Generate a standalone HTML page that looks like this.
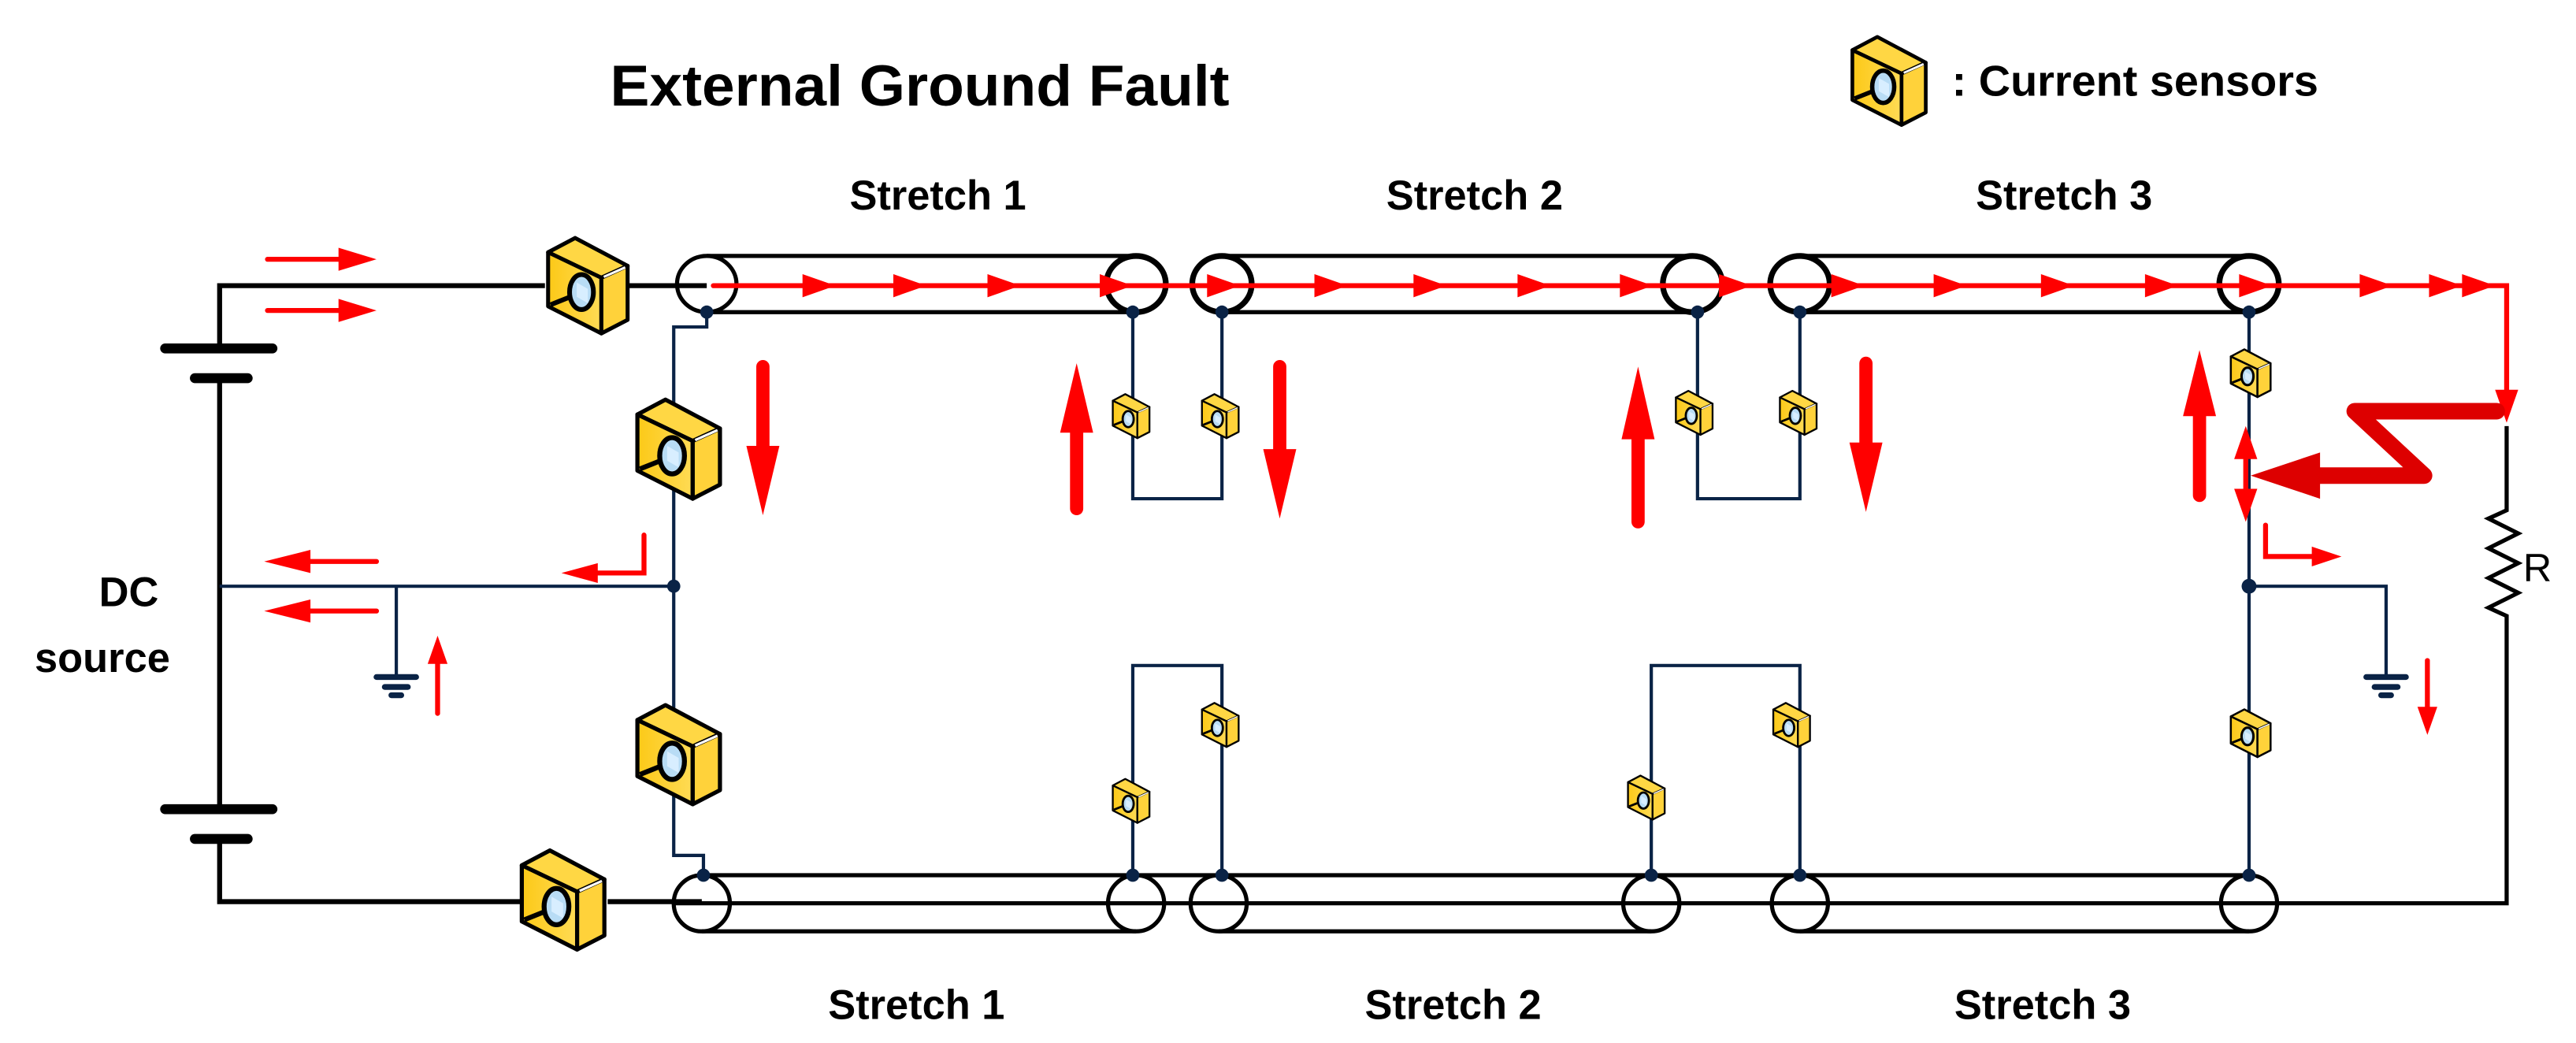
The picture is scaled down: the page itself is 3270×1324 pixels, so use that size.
<!DOCTYPE html>
<html><head><meta charset="utf-8"><style>
html,body{margin:0;padding:0;background:#fff;}
svg{display:block;}
text{font-family:"Liberation Sans",sans-serif;font-weight:bold;fill:#000;}
</style></head><body>
<svg width="3270" height="1324" viewBox="0 0 1560 631.6" preserveAspectRatio="none" xmlns="http://www.w3.org/2000/svg">
<defs>
<linearGradient id="g" x1="0" y1="0" x2="1" y2="0"><stop offset="0" stop-color="#fcc917"/><stop offset="1" stop-color="#ffdb55"/></linearGradient>
<symbol id="s" viewBox="-4 -4 108 128" overflow="visible">
<polygon points="34,0 100,35 67,50 0,18" fill="#ffd744" stroke="#000" stroke-width="5" stroke-linejoin="round"/>
<polygon points="0,18 67,50 67,120 0,86" fill="url(#g)" stroke="#000" stroke-width="5" stroke-linejoin="round"/>
<polygon points="67,50 100,35 100,103 67,120" fill="#ffd23a" stroke="#000" stroke-width="5" stroke-linejoin="round"/>
<line x1="70" y1="49" x2="97" y2="37" stroke="#fff" stroke-width="3"/>
<line x1="3" y1="84" x2="28" y2="74" stroke="#000" stroke-width="6"/>
<ellipse cx="42" cy="68" rx="15" ry="22" fill="#b8dcf5" stroke="#000" stroke-width="6"/>
<polygon points="36,56 50,64 50,82 36,74" fill="#d8eeff"/>
</symbol>
<symbol id="tri" viewBox="0 0 20 14" overflow="visible"><polygon points="0,0 20,7 0,14" fill="#f00"/></symbol>
</defs>

<text x="557" y="64" font-size="35" text-anchor="middle" textLength="375" lengthAdjust="spacingAndGlyphs">External Ground Fault</text>
<text x="1182" y="58" font-size="26" textLength="222" lengthAdjust="spacingAndGlyphs">: Current sensors</text>
<use href="#s" x="1120" y="16" width="48" height="66"/>

<text x="568" y="127" font-size="25" text-anchor="middle">Stretch 1</text>
<text x="893" y="127" font-size="25" text-anchor="middle">Stretch 2</text>
<text x="1250" y="127" font-size="25" text-anchor="middle">Stretch 3</text>
<text x="555" y="617" font-size="25" text-anchor="middle">Stretch 1</text>
<text x="880" y="617" font-size="25" text-anchor="middle">Stretch 2</text>
<text x="1237" y="617" font-size="25" text-anchor="middle">Stretch 3</text>
<text x="78" y="367" font-size="25" text-anchor="middle">DC</text>
<text x="62" y="407" font-size="25" text-anchor="middle">source</text>
<text x="1528" y="352" font-size="24" style="font-weight:normal">R</text>

<g stroke="#000" stroke-width="3" fill="none">
<polyline points="330,173 133,173 133,212"/>
<line x1="133" y1="228" x2="133" y2="490"/>
<polyline points="133,508 133,546 315,546"/>
<line x1="380" y1="173" x2="428" y2="173"/>
<line x1="368" y1="546" x2="425" y2="546"/>
</g>
<g stroke="#000" stroke-width="6" stroke-linecap="round">
<line x1="100" y1="211" x2="165" y2="211"/>
<line x1="118" y1="229" x2="150" y2="229"/>
<line x1="100" y1="490" x2="165" y2="490"/>
<line x1="118" y1="508" x2="150" y2="508"/>
</g>

<g stroke="#000" stroke-width="2.5" fill="none">
<line x1="428" y1="155" x2="688" y2="155"/><line x1="428" y1="189" x2="688" y2="189"/>
<line x1="740" y1="155" x2="1025" y2="155"/><line x1="740" y1="189" x2="1025" y2="189"/>
<line x1="1090" y1="155" x2="1362" y2="155"/><line x1="1090" y1="189" x2="1362" y2="189"/>
<ellipse cx="428" cy="172" rx="18" ry="17"/>
<ellipse cx="688" cy="172" rx="18" ry="17" stroke-width="3.5"/>
<ellipse cx="740" cy="172" rx="18" ry="17" stroke-width="3.5"/>
<ellipse cx="1025" cy="172" rx="18" ry="17" stroke-width="3.5"/>
<ellipse cx="1090" cy="172" rx="18" ry="17" stroke-width="3.5"/>
<ellipse cx="1362" cy="172" rx="18" ry="17" stroke-width="3.5"/>
<line x1="1362" y1="173" x2="1518" y2="173"/>
<line x1="425" y1="530" x2="688" y2="530"/><line x1="425" y1="564" x2="688" y2="564"/>
<line x1="738" y1="530" x2="1000" y2="530"/><line x1="738" y1="564" x2="1000" y2="564"/>
<line x1="1090" y1="530" x2="1362" y2="530"/><line x1="1090" y1="564" x2="1362" y2="564"/>
<line x1="688" y1="530" x2="738" y2="530"/><line x1="1000" y1="530" x2="1090" y2="530"/>
<ellipse cx="425" cy="547" rx="17" ry="17"/>
<ellipse cx="688" cy="547" rx="17" ry="17"/>
<ellipse cx="738" cy="547" rx="17" ry="17"/>
<ellipse cx="1000" cy="547" rx="17" ry="17"/>
<ellipse cx="1090" cy="547" rx="17" ry="17"/>
<ellipse cx="1362" cy="547" rx="17" ry="17"/>
<line x1="408" y1="547" x2="1379" y2="547" stroke-width="2.5"/>
<polyline points="1379,547 1518,547 1518,373 1507,368 1525,359 1507,350 1525,341 1507,332 1525,323 1507,314 1518,309 1518,258"/>
</g>

<g stroke="#0a2346" stroke-width="2" fill="none">
<polyline points="428,189 428,198 408,198 408,518 426,518 426,530"/>
<line x1="133" y1="355" x2="408" y2="355"/>
<polyline points="240,355 240,410"/>
<polyline points="686,189 686,302 740,302 740,189"/>
<polyline points="1028,189 1028,302 1090,302 1090,189"/>
<line x1="1362" y1="189" x2="1362" y2="530"/>
<polyline points="1362,355 1445,355 1445,410"/>
<polyline points="686,530 686,403 740,403 740,530"/>
<polyline points="1000,530 1000,403 1090,403 1090,530"/>
</g>
<g stroke="#0a2346" stroke-width="3.5" stroke-linecap="round">
<line x1="228" y1="410" x2="252" y2="410"/><line x1="233" y1="416" x2="247" y2="416"/><line x1="237" y1="421" x2="243" y2="421"/>
<line x1="1433" y1="410" x2="1457" y2="410"/><line x1="1438" y1="416" x2="1452" y2="416"/><line x1="1442" y1="421" x2="1448" y2="421"/>
</g>
<g fill="#0a2346">
<circle cx="428" cy="189" r="4"/><circle cx="686" cy="189" r="4"/><circle cx="740" cy="189" r="4"/>
<circle cx="1028" cy="189" r="4"/><circle cx="1090" cy="189" r="4"/><circle cx="1362" cy="189" r="4"/>
<circle cx="408" cy="355" r="4"/><circle cx="1362" cy="355" r="4.5"/>
<circle cx="426" cy="530" r="4"/><circle cx="686" cy="530" r="4"/><circle cx="740" cy="530" r="4"/>
<circle cx="1000" cy="530" r="4"/><circle cx="1090" cy="530" r="4"/><circle cx="1362" cy="530" r="4"/>
</g>

<use href="#s" x="330" y="138" width="52" height="70"/>
<use href="#s" x="384" y="232" width="54" height="80"/>
<use href="#s" x="384" y="417" width="54" height="80"/>
<use href="#s" x="314" y="508" width="54" height="74"/>
<use href="#s" x="673" y="233" width="24" height="38"/>
<use href="#s" x="727" y="233" width="24" height="38"/>
<use href="#s" x="1014" y="231" width="24" height="38"/>
<use href="#s" x="1077" y="231" width="24" height="38"/>
<use href="#s" x="1350" y="208" width="26" height="36"/>
<use href="#s" x="1350" y="426" width="26" height="36"/>
<use href="#s" x="673" y="466" width="24" height="38"/>
<use href="#s" x="727" y="420" width="24" height="38"/>
<use href="#s" x="985" y="464" width="24" height="38"/>
<use href="#s" x="1073" y="420" width="24" height="38"/>

<g stroke="#f00" stroke-width="3" fill="none" stroke-linecap="round">
<polyline points="432,173 1518,173 1518,240"/>
<line x1="162" y1="157" x2="210" y2="157"/><line x1="162" y1="188" x2="210" y2="188"/>
<line x1="228" y1="340" x2="185" y2="340"/><line x1="228" y1="370" x2="185" y2="370"/>
<polyline points="390,324 390,347 360,347"/>
<line x1="265" y1="432" x2="265" y2="400"/>
<line x1="1470" y1="400" x2="1470" y2="428"/>
<polyline points="1372,318 1372,337 1402,337"/>
<line x1="1360" y1="275" x2="1360" y2="300"/>
</g>
<g fill="#f00">
<polygon points="205,150 228,157 205,164"/><polygon points="205,181 228,188 205,195"/>
<polygon points="160,340 188,333 188,347"/><polygon points="160,370 188,363 188,377"/>
<polygon points="340,347 362,341 362,353"/>
<polygon points="265,385 259,402 271,402"/>
<polygon points="1470,445 1464,428 1476,428"/>
<polygon points="1418,337 1400,331 1400,343"/>
<polygon points="1518,256 1511,236 1525,236"/>
<polygon points="1360,258 1353,278 1367,278"/><polygon points="1360,316 1353,296 1367,296"/>
</g>
<g>
<use href="#tri" x="485" y="166" width="22" height="14"/>
<use href="#tri" x="540" y="166" width="22" height="14"/>
<use href="#tri" x="597" y="166" width="22" height="14"/>
<use href="#tri" x="665" y="166" width="22" height="14"/>
<use href="#tri" x="730" y="166" width="22" height="14"/>
<use href="#tri" x="795" y="166" width="22" height="14"/>
<use href="#tri" x="855" y="166" width="22" height="14"/>
<use href="#tri" x="918" y="166" width="22" height="14"/>
<use href="#tri" x="980" y="166" width="22" height="14"/>
<use href="#tri" x="1040" y="166" width="22" height="14"/>
<use href="#tri" x="1108" y="166" width="22" height="14"/>
<use href="#tri" x="1170" y="166" width="22" height="14"/>
<use href="#tri" x="1235" y="166" width="22" height="14"/>
<use href="#tri" x="1298" y="166" width="22" height="14"/>
<use href="#tri" x="1355" y="166" width="22" height="14"/>
<use href="#tri" x="1428" y="166" width="22" height="14"/>
<use href="#tri" x="1470" y="166" width="22" height="14"/>
<use href="#tri" x="1490" y="166" width="22" height="14"/>
</g>
<g stroke="#f00" stroke-width="8" stroke-linecap="round">
<line x1="462" y1="222" x2="462" y2="275"/>
<line x1="652" y1="308" x2="652" y2="260"/>
<line x1="775" y1="222" x2="775" y2="275"/>
<line x1="992" y1="316" x2="992" y2="265"/>
<line x1="1130" y1="220" x2="1130" y2="270"/>
<line x1="1332" y1="300" x2="1332" y2="250"/>
</g>
<g fill="#f00">
<polygon points="462,312 452,270 472,270"/>
<polygon points="652,220 642,262 662,262"/>
<polygon points="775,314 765,272 785,272"/>
<polygon points="992,222 982,266 1002,266"/>
<polygon points="1130,310 1120,268 1140,268"/>
<polygon points="1332,212 1322,252 1342,252"/>
</g>
<polyline points="1512,249 1426,249 1468,288 1400,288" stroke="#dd0000" stroke-width="10" fill="none" stroke-linejoin="round" stroke-linecap="round"/>
<polygon points="1363,288 1405,274 1405,302" fill="#dd0000"/>
</svg>
</body></html>
